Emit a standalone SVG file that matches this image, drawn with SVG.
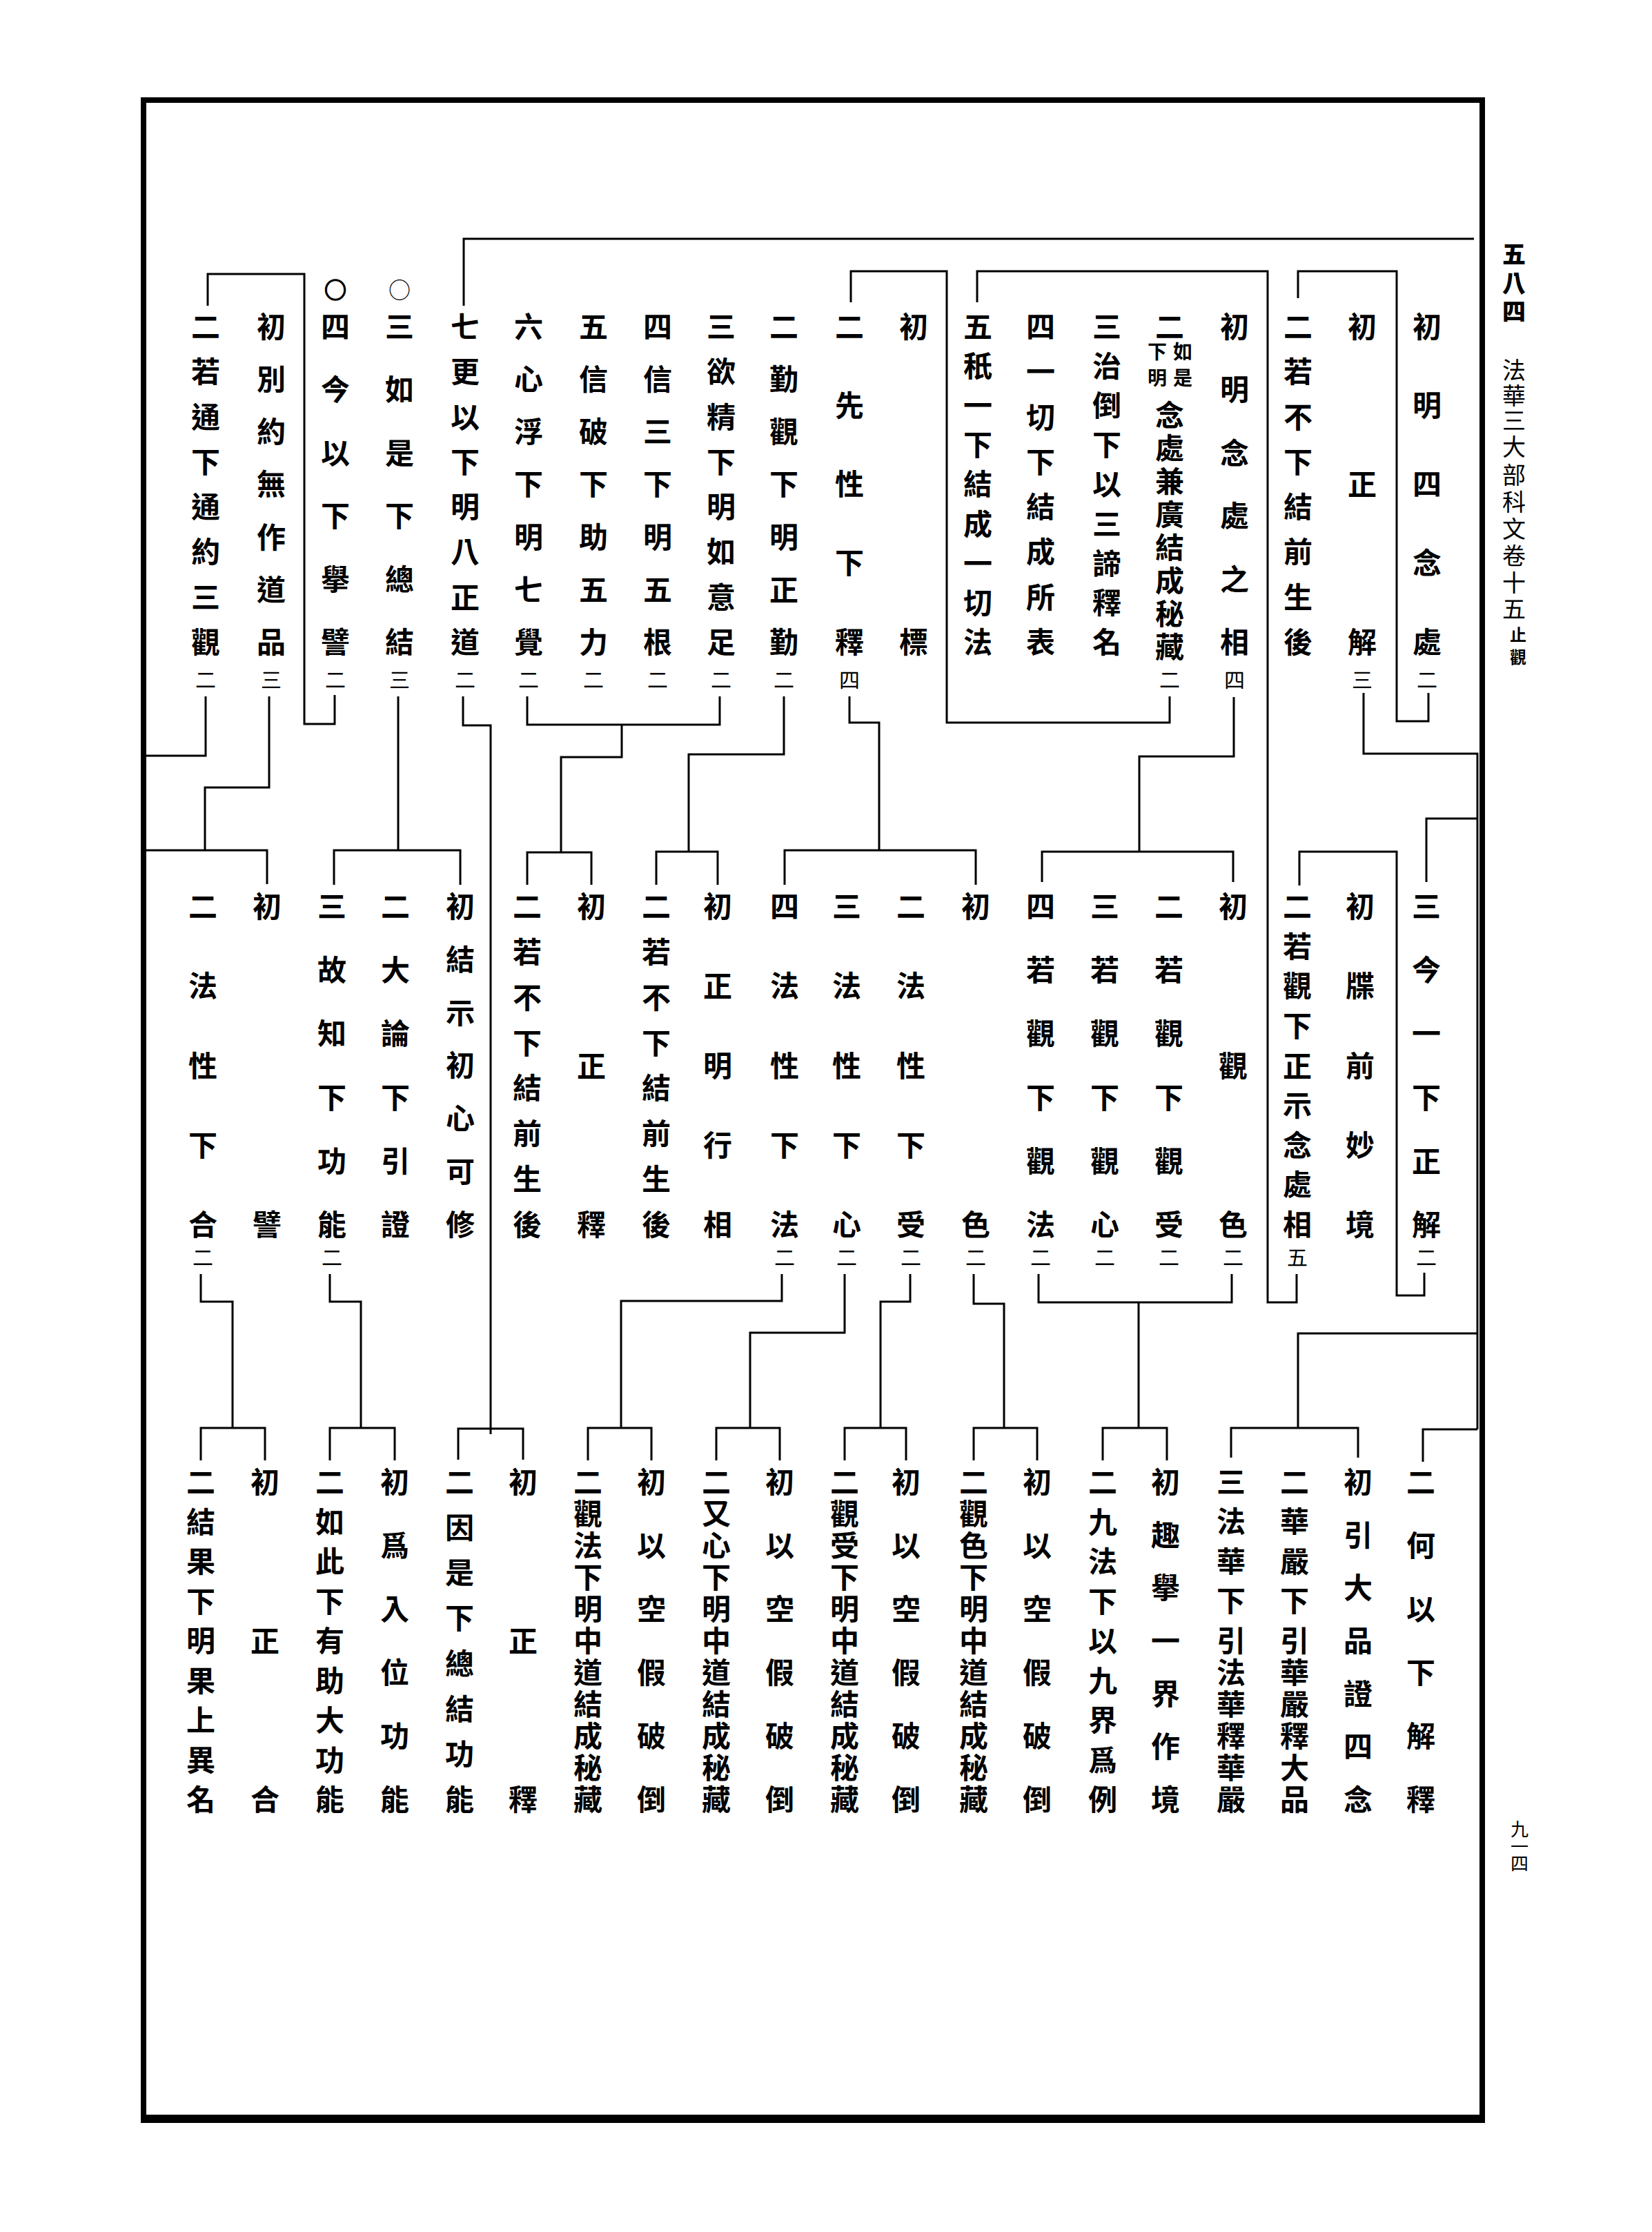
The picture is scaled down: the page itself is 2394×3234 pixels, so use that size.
<svg xmlns="http://www.w3.org/2000/svg" width="2394" height="3234" viewBox="0 0 2394 3234">
<style>
text{font-family:"Noto Sans CJK TC","Noto Sans CJK JP",sans-serif;text-anchor:middle;dominant-baseline:central;fill:#000}
.t{font-size:42px;font-weight:700}
.c{font-size:30px;font-weight:400}
.s{font-size:28px;font-weight:700}
.h{font-size:34px;font-weight:400}
.hb{font-size:34px;font-weight:900}
.o{font-size:32px;font-weight:400}
.cn path{fill:none;stroke:#000;stroke-width:3}
</style>
<rect x="0" y="0" width="2394" height="3234" fill="#fff"/>
<g id="frame">
<rect x="208" y="145" width="1940" height="2923" fill="none" stroke="#000" stroke-width="8"/>
<line x1="204" y1="3070" x2="2152" y2="3070" stroke="#000" stroke-width="12"/>
</g>
<g id="header">
<text class="hb" x="2194 2194 2194" y="366 408 449">五八四</text>
<text class="h" x="2194 2194 2194 2194 2194 2194 2194 2194 2194 2194" y="534 571 607 645 686 725 764 803 842 880">法華三大部科文卷十五</text>
<text class="s" style="font-size:24px" x="2200 2200" y="918 950">止觀</text>
</g>
<g id="pagenum"><text class="c" x="2202 2202 2202" y="2648 2673 2698" style="font-size:26px">九一四</text></g>

<!-- top row -->
<g id="n_t1"><text class="t" x="2068 2068 2068 2068 2068" y="470 584 698 812 927">初明四念處</text><text class="c" x="2068" y="983">二</text></g>
<g id="n_t2"><text class="t" x="1974 1974 1974" y="470 698 927">初正解</text><text class="c" x="1974" y="983">三</text></g>
<g id="n_t3"><text class="t" x="1881 1881 1881 1881 1881 1881 1881 1881" y="470 535 601 666 731 796 862 927">二若不下結前生後</text></g>
<g id="n_t4"><text class="t" x="1789 1789 1789 1789 1789 1789" y="470 561 653 744 836 927">初明念處之相</text><text class="c" x="1789" y="983">四</text></g>
<g id="n_t5"><text class="t" x="1695" y="470">二</text><text class="s" x="1714 1714" y="508 546">如是</text><text class="s" x="1677 1677" y="508 546">下明</text><text class="t" x="1695 1695 1695 1695 1695 1695 1695 1695" y="598 646 694 742 790 838 886 934">念處兼廣結成秘藏</text><text class="c" x="1695" y="983">二</text></g>
<g id="n_t6"><text class="t" x="1604 1604 1604 1604 1604 1604 1604 1604 1604" y="470 527 584 641 698 756 813 870 927">三治倒下以三諦釋名</text></g>
<g id="n_t7"><text class="t" x="1508 1508 1508 1508 1508 1508 1508 1508" y="470 535 601 666 731 796 862 927">四一切下結成所表</text></g>
<g id="n_t8"><text class="t" x="1417 1417 1417 1417 1417 1417 1417 1417 1417" y="470 527 584 641 698 756 813 870 927">五秖一下結成一切法</text></g>
<g id="n_t9"><text class="t" x="1324 1324" y="470 927">初標</text></g>
<g id="n_t10"><text class="t" x="1231 1231 1231 1231 1231" y="470 584 698 812 927">二先性下釋</text><text class="c" x="1231" y="983">四</text></g>
<g id="n_t11"><text class="t" x="1136 1136 1136 1136 1136 1136 1136" y="470 546 622 698 775 851 927">二勤觀下明正勤</text><text class="c" x="1136" y="983">二</text></g>
<g id="n_t12"><text class="t" x="1045 1045 1045 1045 1045 1045 1045 1045" y="470 535 601 666 731 796 862 927">三欲精下明如意足</text><text class="c" x="1045" y="983">二</text></g>
<g id="n_t13"><text class="t" x="953 953 953 953 953 953 953" y="470 546 622 698 775 851 927">四信三下明五根</text><text class="c" x="953" y="983">二</text></g>
<g id="n_t14"><text class="t" x="860 860 860 860 860 860 860" y="470 546 622 698 775 851 927">五信破下助五力</text><text class="c" x="860" y="983">二</text></g>
<g id="n_t15"><text class="t" x="766 766 766 766 766 766 766" y="470 546 622 698 775 851 927">六心浮下明七覺</text><text class="c" x="766" y="983">二</text></g>
<g id="n_t16"><text class="t" x="674 674 674 674 674 674 674 674" y="470 535 601 666 731 796 862 927">七更以下明八正道</text><text class="c" x="674" y="983">二</text></g>
<g id="n_t17"><text class="o" x="579" y="418">○</text><text class="t" x="579 579 579 579 579 579" y="470 561 653 744 836 927">三如是下總結</text><text class="c" x="579" y="983">三</text></g>
<g id="n_t18"><text class="o" x="486" y="418" style="font-weight:900;stroke:#000;stroke-width:1.5">○</text><text class="t" x="486 486 486 486 486 486" y="470 561 653 744 836 927">四今以下擧譬</text><text class="c" x="486" y="983">二</text></g>
<g id="n_t19"><text class="t" x="393 393 393 393 393 393 393" y="470 546 622 698 775 851 927">初別約無作道品</text><text class="c" x="393" y="983">三</text></g>
<g id="n_t20"><text class="t" x="298 298 298 298 298 298 298 298" y="470 535 601 666 731 796 862 927">二若通下通約三觀</text><text class="c" x="298" y="983">二</text></g>

<!-- middle row -->
<g id="n_m1"><text class="t" x="2067 2067 2067 2067 2067 2067" y="1310 1402 1494 1587 1679 1771">三今一下正解</text><text class="c" x="2067" y="1820">二</text></g>
<g id="n_m2"><text class="t" x="1971 1971 1971 1971 1971" y="1310 1425 1541 1656 1771">初牒前妙境</text></g>
<g id="n_m3"><text class="t" x="1880 1880 1880 1880 1880 1880 1880 1880 1880" y="1310 1368 1425 1483 1541 1598 1656 1713 1771">二若觀下正示念處相</text><text class="c" x="1880" y="1820">五</text></g>
<g id="n_m4"><text class="t" x="1787 1787 1787" y="1310 1541 1771">初觀色</text><text class="c" x="1787" y="1820">二</text></g>
<g id="n_m5"><text class="t" x="1694 1694 1694 1694 1694 1694" y="1310 1402 1494 1587 1679 1771">二若觀下觀受</text><text class="c" x="1694" y="1820">二</text></g>
<g id="n_m6"><text class="t" x="1601 1601 1601 1601 1601 1601" y="1310 1402 1494 1587 1679 1771">三若觀下觀心</text><text class="c" x="1601" y="1820">二</text></g>
<g id="n_m7"><text class="t" x="1508 1508 1508 1508 1508 1508" y="1310 1402 1494 1587 1679 1771">四若觀下觀法</text><text class="c" x="1508" y="1820">二</text></g>
<g id="n_m8"><text class="t" x="1414 1414" y="1310 1771">初色</text><text class="c" x="1414" y="1820">二</text></g>
<g id="n_m9"><text class="t" x="1320 1320 1320 1320 1320" y="1310 1425 1541 1656 1771">二法性下受</text><text class="c" x="1320" y="1820">二</text></g>
<g id="n_m10"><text class="t" x="1227 1227 1227 1227 1227" y="1310 1425 1541 1656 1771">三法性下心</text><text class="c" x="1227" y="1820">二</text></g>
<g id="n_m11"><text class="t" x="1137 1137 1137 1137 1137" y="1310 1425 1541 1656 1771">四法性下法</text><text class="c" x="1137" y="1820">二</text></g>
<g id="n_m12"><text class="t" x="1040 1040 1040 1040 1040" y="1310 1425 1541 1656 1771">初正明行相</text></g>
<g id="n_m13"><text class="t" x="951 951 951 951 951 951 951 951" y="1310 1376 1442 1508 1573 1639 1705 1771">二若不下結前生後</text></g>
<g id="n_m14"><text class="t" x="857 857 857" y="1310 1541 1771">初正釋</text></g>
<g id="n_m15"><text class="t" x="764 764 764 764 764 764 764 764" y="1310 1376 1442 1508 1573 1639 1705 1771">二若不下結前生後</text></g>
<g id="n_m16"><text class="t" x="667 667 667 667 667 667 667" y="1310 1387 1464 1540 1617 1694 1771">初結示初心可修</text></g>
<g id="n_m17"><text class="t" x="573 573 573 573 573 573" y="1310 1402 1494 1587 1679 1771">二大論下引證</text></g>
<g id="n_m18"><text class="t" x="481 481 481 481 481 481" y="1310 1402 1494 1587 1679 1771">三故知下功能</text><text class="c" x="481" y="1820">二</text></g>
<g id="n_m19"><text class="t" x="387 387" y="1310 1771">初譬</text></g>
<g id="n_m20"><text class="t" x="294 294 294 294 294" y="1310 1425 1541 1656 1771">二法性下合</text><text class="c" x="294" y="1820">二</text></g>

<!-- bottom row -->
<g id="n_b1"><text class="t" x="2059 2059 2059 2059 2059 2059" y="2144 2236 2328 2420 2512 2604">二何以下解釋</text></g>
<g id="n_b2"><text class="t" x="1968 1968 1968 1968 1968 1968 1968" y="2144 2221 2297 2374 2451 2527 2604">初引大品證四念</text></g>
<g id="n_b3"><text class="t" x="1876 1876 1876 1876 1876 1876 1876 1876 1876 1876" y="2144 2201 2259 2316 2374 2420 2466 2512 2558 2604">二華嚴下引華嚴釋大品</text></g>
<g id="n_b4"><text class="t" x="1784 1784 1784 1784 1784 1784 1784 1784 1784 1784" y="2144 2201 2259 2316 2374 2420 2466 2512 2558 2604">三法華下引法華釋華嚴</text></g>
<g id="n_b5"><text class="t" x="1689 1689 1689 1689 1689 1689 1689" y="2144 2221 2297 2374 2451 2527 2604">初趣擧一界作境</text></g>
<g id="n_b6"><text class="t" x="1598 1598 1598 1598 1598 1598 1598 1598 1598" y="2144 2202 2259 2317 2374 2432 2489 2547 2604">二九法下以九界爲例</text></g>
<g id="n_b7"><text class="t" x="1503 1503 1503 1503 1503 1503" y="2144 2236 2328 2420 2512 2604">初以空假破倒</text></g>
<g id="n_b8"><text class="t" x="1411 1411 1411 1411 1411 1411 1411 1411 1411 1411 1411" y="2144 2190 2236 2282 2328 2374 2420 2466 2512 2558 2604">二觀色下明中道結成秘藏</text></g>
<g id="n_b9"><text class="t" x="1313 1313 1313 1313 1313 1313" y="2144 2236 2328 2420 2512 2604">初以空假破倒</text></g>
<g id="n_b10"><text class="t" x="1224 1224 1224 1224 1224 1224 1224 1224 1224 1224 1224" y="2144 2190 2236 2282 2328 2374 2420 2466 2512 2558 2604">二觀受下明中道結成秘藏</text></g>
<g id="n_b11"><text class="t" x="1130 1130 1130 1130 1130 1130" y="2144 2236 2328 2420 2512 2604">初以空假破倒</text></g>
<g id="n_b12"><text class="t" x="1038 1038 1038 1038 1038 1038 1038 1038 1038 1038 1038" y="2144 2190 2236 2282 2328 2374 2420 2466 2512 2558 2604">二又心下明中道結成秘藏</text></g>
<g id="n_b13"><text class="t" x="944 944 944 944 944 944" y="2144 2236 2328 2420 2512 2604">初以空假破倒</text></g>
<g id="n_b14"><text class="t" x="852 852 852 852 852 852 852 852 852 852 852" y="2144 2190 2236 2282 2328 2374 2420 2466 2512 2558 2604">二觀法下明中道結成秘藏</text></g>
<g id="n_b15"><text class="t" x="758 758 758" y="2144 2374 2604">初正釋</text></g>
<g id="n_b16"><text class="t" x="666 666 666 666 666 666 666 666" y="2144 2210 2275 2341 2407 2473 2538 2604">二因是下總結功能</text></g>
<g id="n_b17"><text class="t" x="572 572 572 572 572 572" y="2144 2236 2328 2420 2512 2604">初爲入位功能</text></g>
<g id="n_b18"><text class="t" x="478 478 478 478 478 478 478 478 478" y="2144 2202 2259 2317 2374 2432 2489 2547 2604">二如此下有助大功能</text></g>
<g id="n_b19"><text class="t" x="384 384 384" y="2144 2374 2604">初正合</text></g>
<g id="n_b20"><text class="t" x="291 291 291 291 291 291 291 291 291" y="2144 2202 2259 2317 2374 2432 2489 2547 2604">二結果下明果上異名</text></g>

<g id="connectors" class="cn">
<path d="M672,443 V346 H2136"/>
<path d="M1881,432 V393 H2024 V1045 H2070 V1004"/>
<path d="M1976,1004 V1092 H2141 V2071"/>
<path d="M2067,1278 V1186 H2141"/>
<path d="M1881,2069 V1932 H2141"/>
<path d="M1784,2112 V2069 H1968 V2112"/>
<path d="M2062,2118 V2071 H2141"/>
<path d="M1416,438 V393 H1837 V1887 H1879 V1846"/>
<path d="M1233,438 V393 H1372 V1047 H1695 V1009"/>
<path d="M1788,1010 V1096 H1651 V1234"/>
<path d="M1510,1278 V1234 H1787 V1278"/>
<path d="M1883,1283 V1234 H2024 V1877 H2064 V1844"/>
<path d="M1231,1009 V1047 H1274 V1232"/>
<path d="M1137,1282 V1232 H1414 V1282"/>
<path d="M1136,1009 V1093 H998 V1234"/>
<path d="M951,1282 V1234 H1040 V1282"/>
<path d="M764,1009 V1050 H1043 V1009"/>
<path d="M901,1050 V1097 H813 V1235"/>
<path d="M764,1282 V1235 H857 V1282"/>
<path d="M671,1009 V1051 H711 V2078"/>
<path d="M664,2115 V2070 H758 V2115"/>
<path d="M577,1009 V1232"/>
<path d="M484,1282 V1232 H667 V1282"/>
<path d="M485,1007 V1049 H441 V397 H301 V443"/>
<path d="M390,1009 V1141 H297 V1232"/>
<path d="M387,1281 V1232 H212"/>
<path d="M298,1009 V1095 H212"/>
<path d="M291,1846 V1886 H337 V2069"/>
<path d="M291,2116 V2069 H384 V2116"/>
<path d="M478,1846 V1886 H523 V2069"/>
<path d="M478,2116 V2069 H572 V2116"/>
<path d="M1133,1846 V1885 H900 V2069"/>
<path d="M852,2116 V2069 H944 V2116"/>
<path d="M1224,1846 V1931 H1087 V2069"/>
<path d="M1038,2116 V2069 H1130 V2116"/>
<path d="M1319,1846 V1886 H1276 V2069"/>
<path d="M1224,2116 V2069 H1313 V2116"/>
<path d="M1411,1846 V1889 H1455 V2069"/>
<path d="M1411,2116 V2069 H1503 V2116"/>
<path d="M1505,1846 V1887 H1785 V1846"/>
<path d="M1650,1887 V2069"/>
<path d="M1598,2116 V2069 H1691 V2116"/>
</g>
</svg>
